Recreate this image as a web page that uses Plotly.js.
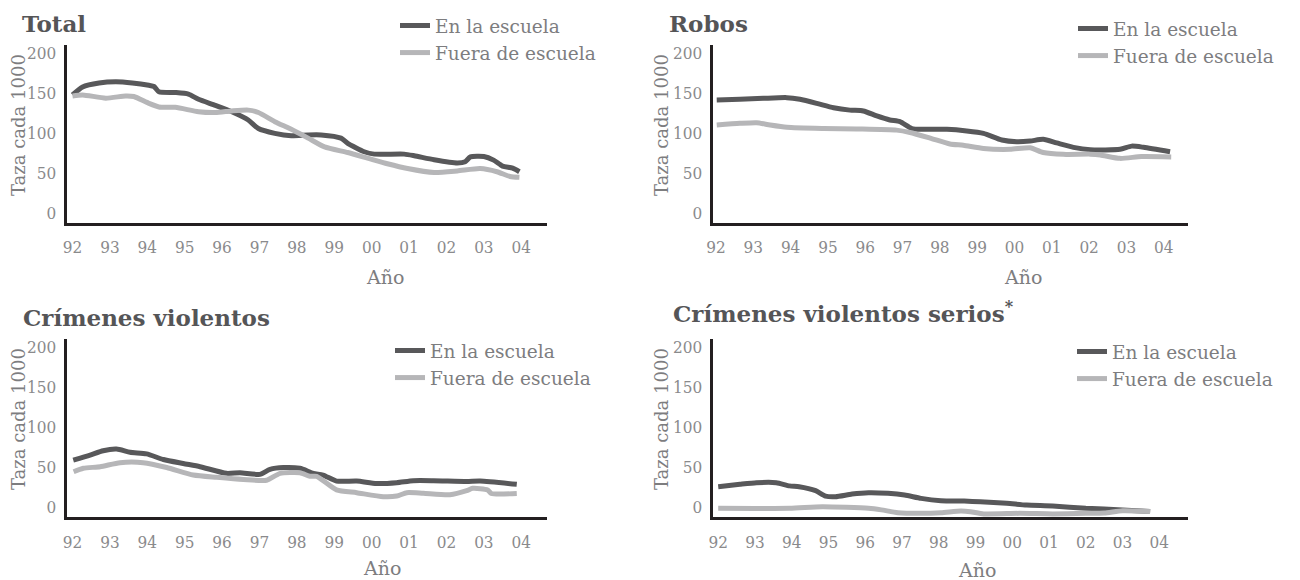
<!DOCTYPE html>
<html>
<head>
<meta charset="utf-8">
<script src="https://cdn.plot.ly/plotly-3.0.1.min.js"></script>
<style>
  html, body { margin: 0; padding: 0; background: #ffffff; }
  #chart { width: 1300px; height: 580px; }
</style>
</head>
<body>
<div id="chart"></div>
<script>
// ---------- data ----------
const tickYears = [1992, 1993, 1994, 1995, 1996, 1997, 1998, 1999, 2000, 2001, 2002, 2003, 2004];
const tickLabels = ['92', '93', '94', '95', '96', '97', '98', '99', '00', '01', '02', '03', '04'];
const yTicks = [0, 50, 100, 150, 200];

const seriesNames = ['En la escuela', 'Fuera de escuela'];
const panelTitles = ['Total', 'Robos', 'Crímenes violentos', 'Crímenes violentos serios<sup>*</sup>'];
const yTitle = 'Taza cada 1000';
const xTitle = 'Año';

// Total
const totalEnX = [1992.00,1992.27,1992.71,1993.16,1993.60,1994.04,1994.18,1994.31,1994.75,1995.10,1995.37,1995.82,1996.26,1996.70,1996.97,1997.41,1997.85,1998.30,1998.65,1999.18,1999.36,1999.80,2000.07,2000.87,2001.14,2001.67,2002.29,2002.50,2002.64,2003.00,2003.26,2003.50,2003.77,2003.95];
const totalEnY = [148,158,163,164.5,163,160,158.5,152,151,149,142.5,135,127,116.7,106,100,97,98,98,94,87.5,77,74,74,72,67,63,64.5,70.5,71,66.5,59,56.5,52];
const totalFueraX = [1992.00,1992.27,1992.89,1993.42,1993.64,1994.04,1994.31,1994.75,1995.37,1995.82,1996.26,1996.70,1996.97,1997.41,1997.85,1998.30,1998.74,1999.36,1999.89,2000.42,2000.96,2001.67,2002.29,2002.90,2003.35,2003.70,2003.95];
const totalFueraY = [146.7,148,144,146.7,146,137.5,133,132.5,127,126,128,129,126,114.6,105,94,83,76,69,62,56,51,53,56,52,46,45];

// Robos
const robosEnX = [1992.02,1992.64,1993.27,1993.90,1994.25,1994.70,1995.15,1995.59,1995.95,1996.31,1996.66,1996.93,1997.25,1997.56,1998.19,1998.72,1999.17,1999.66,2000.06,2000.42,2000.77,2001.13,2001.58,2002.03,2002.83,2003.14,2003.46,2004.17];
const robosEnY = [141.7,142.5,143.7,144.6,142.5,137.5,132,129,128,121.7,116.7,114.6,106,105,105,103,100,91.7,89.6,90.4,92.5,88,82.5,79.5,80,84,82.5,77];
const robosFueraX = [1992.02,1992.64,1993.09,1993.45,1993.90,1994.88,1995.77,1996.84,1997.20,1997.74,1998.27,1998.63,1999.17,1999.88,2000.42,2000.77,2001.31,2002.03,2002.30,2002.83,2003.40,2004.20];
const robosFueraY = [110.4,112.5,113.3,110.4,107.5,106,105.4,104,101,94,86.7,85,81,80,82,76,73.7,74,73,68.7,71,70.5];

// Crímenes violentos
const violEnX = [1992.02,1992.47,1992.82,1993.18,1993.54,1993.98,1994.43,1994.96,1995.41,1996.12,1996.48,1997.01,1997.28,1997.64,1998.08,1998.44,1998.70,1999.06,1999.60,2000.13,2000.67,2001.11,2001.65,2002.54,2002.90,2003.88];
const violEnY = [58.3,64.6,70,72,68,66,59,54,50,41.7,42.5,40.4,46.7,49,48,41.7,39.6,32,32,29,30,32.5,32.5,31.5,32,28];
const violFueraX = [1992.03,1992.29,1992.74,1993.27,1993.89,1994.52,1995.23,1995.86,1996.57,1997.19,1997.55,1998.08,1998.35,1998.53,1999.06,1999.60,2000.31,2000.67,2000.94,2001.38,2002.09,2002.54,2002.70,2003.10,2003.20,2003.88];
const violFueraY = [43.7,48,50,55,55,49,39.6,36.7,34,33,41.7,42.5,38,38,21,17.5,12.5,13.3,17.5,16.7,15,20,23,21,16.5,16.5];

// Crímenes violentos serios
const seriosEnX = [1992.00,1992.59,1993.04,1993.58,1993.94,1994.20,1994.65,1994.92,1995.19,1995.64,1996.09,1996.62,1997.07,1997.52,1998.06,1998.69,1999.13,1999.85,2000.39,2001.10,2002.00,2003.00,2003.75];
const seriosEnY = [25,28,30,30,26,25,20,13.3,12.5,15.8,17.5,16.7,14.6,10.4,7.5,7,6.2,4.2,2,0.8,-2,-4,-6];
const seriosFueraX = [1992.00,1993.94,1994.83,1996.09,1996.44,1996.89,1997.52,1998.06,1998.60,1998.86,1999.22,2000.20,2001.10,2002.00,2002.50,2003.00,2003.75];
const seriosFueraY = [-2,-2,0,-2,-4,-7.5,-8.3,-7.5,-5.4,-6.2,-9,-8.3,-9,-8.3,-8,-5,-6];

// ---------- styling ----------
const W = 1300, H = 580;
const FONT = '"DejaVu Serif", serif';
const FONT_NARROW = '"DejaVu Serif Condensed", "DejaVu Serif", serif';
const DARK = '#58585a';
const LIGHT = '#b6b6b8';
const AXIS = '#231f20';
const TEXT = '#7d7d7f';
const TICK = '#8a8a8c';
const TITLE = '#555557';

const px = v => v / W;
const py = v => 1 - v / H;

const panels = [
  { ax: '',  xd: [66.7, 546.7],  yd: [45, 222.7],    xr: [1991.845, 2004.68], yr: [-11.7, 210.4],
    en: [totalEnX, totalEnY], fu: [totalFueraX, totalFueraY],
    title: [20, 23], ytl: [19, 125], xtl: [385, 277], leg: [395, 7] },
  { ax: '2', xd: [712.7, 1188],  yd: [45, 222.7],    xr: [1991.912, 2004.65], yr: [-11.7, 210.4],
    en: [robosEnX, robosEnY], fu: [robosFueraX, robosFueraY],
    title: [667, 23], ytl: [662, 125], xtl: [1023, 277], leg: [1073, 10] },
  { ax: '3', xd: [66.7, 546.7],  yd: [339.3, 517.3], xr: [1991.845, 2004.68], yr: [-13.25, 209.25],
    en: [violEnX, violEnY], fu: [violFueraX, violFueraY],
    title: [21, 317], ytl: [19, 419], xtl: [382, 568], leg: [390, 332] },
  { ax: '4', xd: [712.7, 1188],  yd: [339.3, 517.3], xr: [1991.85, 2004.78], yr: [-13.25, 209.25],
    en: [seriosEnX, seriosEnY], fu: [seriosFueraX, seriosFueraY],
    title: [671, 312], ytl: [662, 419], xtl: [977, 570], leg: [1072, 333] }
];

const traces = [];
const layout = {
  width: W, height: H,
  margin: { l: 0, r: 0, t: 0, b: 0 },
  paper_bgcolor: '#ffffff',
  plot_bgcolor: '#ffffff',
  font: { family: FONT, color: TEXT },
  showlegend: true,
  annotations: []
};

panels.forEach((p, k) => {
  const legName = k === 0 ? 'legend' : 'legend' + (k + 1);
  const xa = 'x' + p.ax, ya = 'y' + p.ax;
  [[p.en, DARK, 0], [p.fu, LIGHT, 1]].forEach(([d, col, s]) => {
    traces.push({
      type: 'scatter', mode: 'lines',
      x: d[0], y: d[1],
      name: seriesNames[s],
      xaxis: xa, yaxis: ya,
      legend: legName,
      legendgroup: 'g' + k + s,
      line: { color: col, width: 5, shape: 'spline', smoothing: 0.6 },
      hoverinfo: 'skip'
    });
  });

  layout['xaxis' + p.ax] = {
    domain: [px(p.xd[0]), px(p.xd[1])],
    range: p.xr,
    anchor: ya,
    showgrid: false, zeroline: false,
    showline: true, linecolor: AXIS, linewidth: 3,
    ticks: '', tickmode: 'array', tickvals: tickYears, ticktext: tickLabels,
    ticklabelstandoff: 7,
    tickfont: { family: FONT_NARROW, size: 17, color: TICK },
    fixedrange: true
  };
  layout['yaxis' + p.ax] = {
    domain: [py(p.yd[1]), py(p.yd[0])],
    range: p.yr,
    anchor: xa,
    showgrid: false, zeroline: false,
    showline: true, linecolor: AXIS, linewidth: 3,
    ticks: '', tickmode: 'array', tickvals: yTicks,
    ticklabelstandoff: 4,
    tickfont: { family: FONT_NARROW, size: 17, color: TICK },
    fixedrange: true
  };
  layout[legName] = {
    x: px(p.leg[0]), y: py(p.leg[1]),
    xanchor: 'left', yanchor: 'top',
    bgcolor: 'rgba(0,0,0,0)',
    font: { family: FONT, size: 18.5, color: TEXT },
    tracegroupgap: 0,
    itemwidth: 30
  };

  layout.annotations.push(
    { text: panelTitles[k], xref: 'paper', yref: 'paper', x: px(p.title[0]), y: py(p.title[1]),
      xanchor: 'left', yanchor: 'middle', showarrow: false,
      font: { family: FONT, size: 23, color: TITLE, weight: 'bold' } },
    { text: yTitle, xref: 'paper', yref: 'paper', x: px(p.ytl[0]), y: py(p.ytl[1]),
      xanchor: 'center', yanchor: 'middle', textangle: -90, showarrow: false,
      font: { family: FONT, size: 18, color: TEXT } },
    { text: xTitle, xref: 'paper', yref: 'paper', x: px(p.xtl[0]), y: py(p.xtl[1]),
      xanchor: 'center', yanchor: 'middle', showarrow: false,
      font: { family: FONT, size: 19, color: TEXT } }
  );
});

Plotly.newPlot('chart', traces, layout, { displayModeBar: false, staticPlot: true });
</script>
</body>
</html>
